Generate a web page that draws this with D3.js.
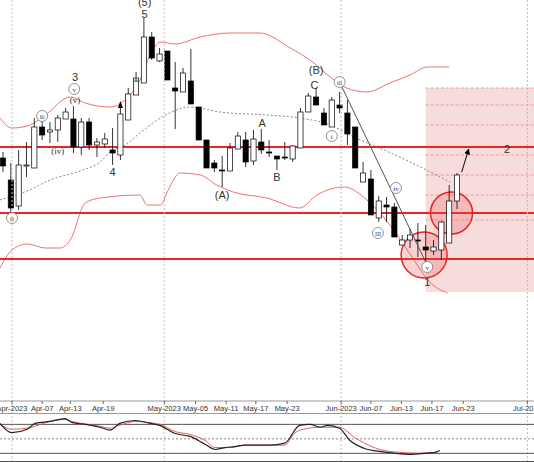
<!DOCTYPE html>
<html><head><meta charset="utf-8">
<script src="https://cdn.jsdelivr.net/npm/d3@7"></script>
<style>body{margin:0;background:#fff}svg{display:block}</style>
</head><body><svg id="c" width="534" height="462"></svg>
<script>
// candles: [open, high, low, close] by trading-day index
const candles = [
[242,248,228,234],[220,237,187,192],[194,250,190,235],[234,258,223,235],[232,282,232,273],
[273,280,260,265],[268,278,257,270],[270,285,258,282],[281,292,281,288],[281,294,247,253],
[253,282,245,278],[278,282,250,255],[255,262,243,258],[256,267,252,261],[250,272,235,247],
[245,298,240,286],[280,312,280,306],[305,328,305,322],[317,382,317,363],[363,368,340,342],
[339,352,338,346],[349,349,320,320],[312,338,271,309],[308,332,308,327],[319,351,296,296],
[293,293,260,260],[260,260,232,232],[237,240,228,232],[230,244,213,229],[229,257,229,252],
[251,268,251,264],[260,268,233,238],[239,270,235,261],[258,271,246,250],[248,260,243,247],
[244,244,230,241],[243,258,240,242],[241,255,238,254],[252,292,252,288],[288,307,288,304],
[303,312,295,295],[287,292,275,275],[273,303,273,300],[295,308,287,292],[287,300,255,266],
[273,273,232,232],[218,238,218,227],[221,230,185,185],[182,204,178,199],[195,203,178,193],
[193,197,163,163],[155,165,155,160],[160,171,152,165],[160,177,143,159],[153,175,130,150],
[149,160,145,153],[150,179,140,178],[157,215,157,199],[199,227,191,225]
];
const upperBand = [[-0.4,282],[1.15,272],[3.1,274],[5.4,285],[8.6,303],[10.5,297],[13.7,293],[15.6,300],[17.5,320],[18.8,345],[20.1,358],[22,356],[25.2,363],[29,367],[32.8,367],[36.7,352],[39.2,340],[42.3,320],[43.9,312],[46.5,308],[49.4,317],[52,325],[54.2,333],[57,333]];
const midBand = [[-0.4,200],[3.4,210],[6,220],[10.2,230],[12.4,238],[13.7,248],[15.6,255],[17.5,267],[20.1,282],[21.3,287],[23.9,293],[27.7,288],[33.7,285],[37.9,282],[41.8,275],[44.3,265],[50.7,243],[57.1,218]];
const lowerBand = [[-0.4,132],[1.15,150],[3.1,156],[5.4,152],[7.3,152],[8.6,160],[10.5,197],[12.4,202],[17.5,205],[18.4,195],[20.1,195],[21.1,210],[22.6,227],[25.2,225],[27.3,215],[29.4,208],[33.7,202],[37.9,192],[40.1,205],[43.6,213],[46.5,200],[49.9,170],[52.5,140],[54.5,118],[56.8,107]];
const levels = [253,187,141];
const targetBox = {x0:54.0, top:312, bottom:108};
const targetLines = [312,295,275,245,225,205,180];
const circles = [[57.3,187,21],[53.8,145,23]];
const trendLine = [[43.0,318],[54.3,133]];
const arrowLine = [[58.6,228],[59.5,251]];
const tickLabels = ["Apr-2023","Apr-07","Apr-13","Apr-19","May-2023","May-05","May-11","May-17","May-23","Jun-2023","Jun-07","Jun-13","Jun-17","Jun-23","Jul-2023"];
const tickIdx = [1.15,5.0,8.6,12.8,20.6,24.6,28.5,32.3,36.3,43.2,47,50.9,54.8,58.8,67];
const monthIdx = [1.15,20.6,43.2,67];
const oscBlack = [[-0.4,82],[1.1,63],[3.1,70],[4.1,82],[6,86],[7.9,92],[8.8,84],[10.5,80],[12.4,74],[13.7,68],[14.9,82],[16.9,88],[18.8,82],[20,78],[22,61],[23.9,55],[25.8,39],[27.1,28],[28.4,32],[29.6,34],[30.9,37],[34.1,37],[36,41],[37.9,78],[39.2,80],[40.5,74],[41.5,78],[43,72],[44.3,47],[46.2,30],[48.1,24],[50.1,20],[52,18],[53.9,20],[55.2,22],[55.8,26]];
const oscRed = [[-0.4,80],[1.1,70],[3.1,72],[6,86],[7.9,90],[8.8,86],[12.4,76],[13.7,72],[14.9,78],[16.9,86],[20,80],[22,65],[23.9,59],[25.8,47],[27.1,32],[29,32],[30.9,37],[36,37],[37.2,61],[38.4,70],[40.5,74],[43,74],[44.9,53],[46.2,41],[48.1,28],[50.7,22],[53.2,20],[55.2,22],[55.8,18]];
const labels = [
 ["(5)",18.1,398,"t"],["5",18.1,386,"t"],["3",9.2,323,"t"],["v",9.1,311,"c"],["(v)",9.2,300,"r"],
 ["iii",5.0,284,"c"],["(iv)",7.0,249,"r"],["4",14.0,228,"t"],["(A)",28.0,205,"t"],["A",33.1,277,"t"],
 ["B",35.0,223,"t"],["C",39.8,315,"t"],["(B)",40.0,330,"t"],["iii",43.0,318,"c"],["i",42.0,264,"c"],
 ["iv",50.2,212,"c"],["III",47.9,167,"c"],["v",54.2,133,"c"],["1",54.2,118,"t"],["2",64.4,251,"t"],["ii",1.15,182,"c"]
];

const svg = d3.select("#c");
const x = d3.scaleLinear().domain([0,58]).range([3,457]);
const y = d3.scaleLinear().domain([0,400]).range([400,0]);
const yo = d3.scaleLinear().domain([0,100]).range([463,414.7]);

svg.append("defs").append("clipPath").attr("id","pc").append("rect").attr("x",0).attr("y",0).attr("width",534).attr("height",400);
const g = svg.append("g").attr("clip-path","url(#pc)");

// month gridlines
svg.selectAll(".mg").data(monthIdx).join("line").attr("x1",d=>x(d)).attr("x2",d=>x(d)).attr("y1",0).attr("y2",462)
  .attr("stroke","#bbb").attr("stroke-dasharray","2,2");

// target box
g.append("rect").attr("x",x(targetBox.x0)).attr("y",y(targetBox.top)).attr("width",534-x(targetBox.x0)).attr("height",y(targetBox.bottom)-y(targetBox.top)).attr("fill","#f7dcdc");
g.selectAll(".tl").data(targetLines).join("line").attr("x1",x(targetBox.x0)).attr("x2",534).attr("y1",d=>y(d)).attr("y2",d=>y(d))
  .attr("stroke","#e88").attr("stroke-dasharray","3,2").attr("stroke-width",0.8);

const line = d3.line().x(d=>x(d[0])).y(d=>y(d[1])).curve(d3.curveMonotoneX);
g.append("path").attr("d",line(upperBand)).attr("fill","none").attr("stroke","#f07070");
g.append("path").attr("d",line(lowerBand)).attr("fill","none").attr("stroke","#f07070");
g.append("path").attr("d",line(midBand)).attr("fill","none").attr("stroke","#888").attr("stroke-dasharray","2,2");

// levels
g.selectAll(".lv").data(levels).join("line").attr("x1",0).attr("x2",534).attr("y1",d=>y(d)).attr("y2",d=>y(d)).attr("stroke","#e8262a").attr("stroke-width",2);

// circles
g.selectAll(".ci").data(circles).join("circle").attr("cx",d=>x(d[0])).attr("cy",d=>y(d[1])).attr("r",d=>d[2])
  .attr("fill","rgba(235,80,80,0.25)").attr("stroke","#e8262a").attr("stroke-width",1.5);

// candles
const cg = g.selectAll(".cd").data(candles).join("g");
cg.append("line").attr("x1",(d,i)=>x(i)).attr("x2",(d,i)=>x(i)).attr("y1",d=>y(d[1])).attr("y2",d=>y(d[2])).attr("stroke","#000").attr("stroke-width",0.8);
cg.append("rect").attr("x",(d,i)=>x(i)-2.6).attr("width",5.2)
  .attr("y",d=>y(Math.max(d[0],d[3]))).attr("height",d=>Math.max(1,Math.abs(y(d[0])-y(d[3]))))
  .attr("fill",d=>d[3]>=d[0]?"#fff":"#000").attr("stroke","#000").attr("stroke-width",0.7);

// trend line and arrow
g.append("line").attr("x1",x(trendLine[0][0])).attr("y1",y(trendLine[0][1])).attr("x2",x(trendLine[1][0])).attr("y2",y(trendLine[1][1])).attr("stroke","#555").attr("stroke-width",1);
svg.append("defs").append("marker").attr("id","ah").attr("viewBox","0 0 10 10").attr("refX",9).attr("refY",5).attr("markerWidth",6).attr("markerHeight",6).attr("orient","auto")
  .append("path").attr("d","M0,0L10,5L0,10z").attr("fill","#000");
g.append("line").attr("x1",x(arrowLine[0][0])).attr("y1",y(arrowLine[0][1])).attr("x2",x(arrowLine[1][0])).attr("y2",y(arrowLine[1][1])).attr("stroke","#000").attr("marker-end","url(#ah)");
// small markers on candles 16 and 18
g.append("path").attr("d",`M${x(15)-2.5},${y(292)}L${x(15)+2.5},${y(292)}L${x(15)},${y(299)}Z`).attr("fill","#000");
g.append("path").attr("d",`M${x(17)-2},${y(318)}L${x(17)+2},${y(318)}L${x(17)},${y(323)}Z`).attr("fill","#3a3");

// labels
labels.forEach(([t,i,v,k])=>{
  if(k==="c"){
    g.append("circle").attr("cx",x(i)).attr("cy",y(v)).attr("r",5.5).attr("fill","#fff").attr("stroke","#777").attr("stroke-width",0.8);
    g.append("text").attr("x",x(i)).attr("y",y(v)+2.5).attr("text-anchor","middle").attr("font-family","Liberation Serif").attr("font-size",t.length>2?6:7).attr("fill","#333").text(t);
  } else if(k==="r"){
    g.append("text").attr("x",x(i)).attr("y",y(v)+3).attr("text-anchor","middle").attr("font-family","Liberation Serif").attr("font-size",9).attr("fill","#333").text(t);
  } else {
    g.append("text").attr("x",x(i)).attr("y",y(v)+4).attr("text-anchor","middle").attr("font-family","Liberation Sans").attr("font-size",11).attr("fill","#333").text(t);
  }
});

// axis strip
svg.append("line").attr("x1",0).attr("x2",534).attr("y1",401).attr("y2",401).attr("stroke","#999");
svg.append("line").attr("x1",0).attr("x2",534).attr("y1",413.5).attr("y2",413.5).attr("stroke","#999");
svg.selectAll(".tk").data(tickIdx).join("line").attr("x1",d=>x(d)).attr("x2",d=>x(d)).attr("y1",401).attr("y2",404).attr("stroke","#666");
svg.selectAll(".tt").data(tickLabels).join("text").attr("x",(d,i)=>x(tickIdx[i])).attr("y",411).attr("text-anchor","middle")
  .attr("font-family","Liberation Sans").attr("font-size",7.5).attr("fill","#333").text(d=>d);

// oscillator panel
svg.append("rect").attr("x",0).attr("y",420).attr("width",534).attr("height",42).attr("fill","#fff");
svg.selectAll(".mg2").data(monthIdx).join("line").attr("x1",d=>x(d)).attr("x2",d=>x(d)).attr("y1",420).attr("y2",462).attr("stroke","#bbb").attr("stroke-dasharray","2,2");
[80,20].forEach(v=>svg.append("line").attr("x1",0).attr("x2",534).attr("y1",yo(v)).attr("y2",yo(v)).attr("stroke","#555"));
svg.append("line").attr("x1",0).attr("x2",534).attr("y1",yo(50)).attr("y2",yo(50)).attr("stroke","#888").attr("stroke-dasharray","2,2");
svg.append("line").attr("x1",0).attr("x2",534).attr("y1",461.5).attr("y2",461.5).attr("stroke","#555");
const ol = d3.line().x(d=>x(d[0])).y(d=>yo(d[1])).curve(d3.curveMonotoneX);
svg.append("path").attr("d",ol(oscRed)).attr("fill","none").attr("stroke","#e06060").attr("stroke-width",1);
svg.append("path").attr("d",ol(oscBlack)).attr("fill","none").attr("stroke","#222").attr("stroke-width",1.2);
</script></body></html>
